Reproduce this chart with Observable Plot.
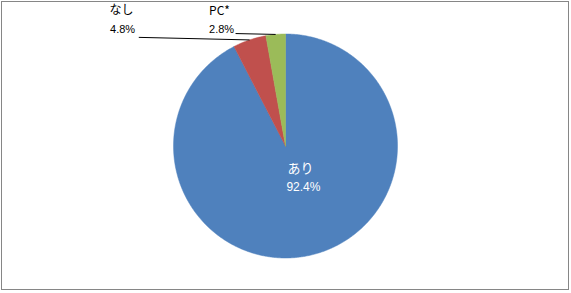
<!DOCTYPE html>
<html><head><meta charset="utf-8">
<script src="https://cdn.jsdelivr.net/npm/d3@7"></script>
<script src="https://cdn.jsdelivr.net/npm/@observablehq/plot@0.6"></script>
<style>
body{margin:0;background:#fff}
#wrap{position:relative;width:571px;height:293px;overflow:hidden}
#frame{position:absolute;left:1px;top:1px;width:568px;height:289px;box-sizing:border-box;border:1px solid #868686;pointer-events:none}
svg{display:block}
</style></head>
<body>
<div id="wrap"><div id="chart"></div><div id="frame"></div></div>
<script>
// Data
const categories = ["あり", "なし", "PC*"];
const values = [92.4, 4.8, 2.8];
const pctLabels = ["92.4%", "4.8%", "2.8%"];
const colors = ["#4F81BD", "#C0504D", "#9BBB59"];

// Layout (data-space units, pie radius = 1)
const labelLayout = {
  "あり": {name: [0.134, -0.20], pct: [0.16, -0.366], inside: true},
  "なし": {name: [-1.464, 1.21], pct: [-1.455, 1.04], lead: [-1.31, 0.97]},
  "PC*":  {name: [-0.589, 1.20], pct: [-0.571, 1.04], lead: [-0.446, 1.004]}
};

const W = 571, H = 293, cx = 285, cy = 145.5, R = 112;

const rows = categories.map((c, i) => ({key: c, value: values[i], pct: pctLabels[i]}));
const arcs = d3.pie().sort(null).value(d => d.value)(rows);

// Sample each slice's outline in data space
const pts = [];
for (const a of arcs) {
  pts.push({key: a.data.key, x: 0, y: 0});
  const n = Math.max(2, Math.ceil((a.endAngle - a.startAngle) / (Math.PI / 360)));
  for (let k = 0; k <= n; k++) {
    const t = a.startAngle + (a.endAngle - a.startAngle) * k / n;
    pts.push({key: a.data.key, x: Math.sin(t), y: Math.cos(t)});
  }
  pts.push({key: a.data.key, x: 0, y: 0});
}

const names = [], pcts = [], leads = [];
for (const a of arcs) {
  const L = labelLayout[a.data.key];
  const mid = (a.startAngle + a.endAngle) / 2;
  names.push({text: a.data.key, x: L.name[0], y: L.name[1], inside: !!L.inside});
  pcts.push({text: a.data.pct, x: L.pct[0], y: L.pct[1], inside: !!L.inside});
  if (L.lead) leads.push({x1: L.lead[0], y1: L.lead[1], x2: Math.sin(mid), y2: Math.cos(mid)});
}

const jp = "'Noto Sans CJK JP', sans-serif";
const lat = "'Liberation Sans', Arial, sans-serif";

const chart = Plot.plot({
  width: W, height: H,
  marginLeft: cx - R, marginRight: W - (cx + R),
  marginTop: cy - R, marginBottom: H - (cy + R),
  x: {domain: [-1, 1], axis: null},
  y: {domain: [-1, 1], axis: null},
  color: {domain: categories, range: colors},
  style: {background: "white", overflow: "visible"},
  marks: [
    Plot.line(pts, {x: "x", y: "y", z: "key", fill: "key", stroke: "key", strokeWidth: 0.5, curve: "linear"}),
    Plot.link(leads, {x1: "x1", y1: "y1", x2: "x2", y2: "y2", stroke: "#000", strokeWidth: 1}),
    Plot.text(names.filter(d => !d.inside), {x: "x", y: "y", text: "text", fill: "#000", fontSize: 12, fontFamily: jp}),
    Plot.text(names.filter(d => d.inside), {x: "x", y: "y", text: "text", fill: "#fff", fontSize: 13, fontFamily: jp}),
    Plot.text(pcts.filter(d => !d.inside), {x: "x", y: "y", text: "text", fill: "#000", fontSize: 11, fontFamily: lat}),
    Plot.text(pcts.filter(d => d.inside), {x: "x", y: "y", text: "text", fill: "#fff", fontSize: 12, fontFamily: lat})
  ]
});
document.getElementById("chart").appendChild(chart);
</script>
</body></html>
